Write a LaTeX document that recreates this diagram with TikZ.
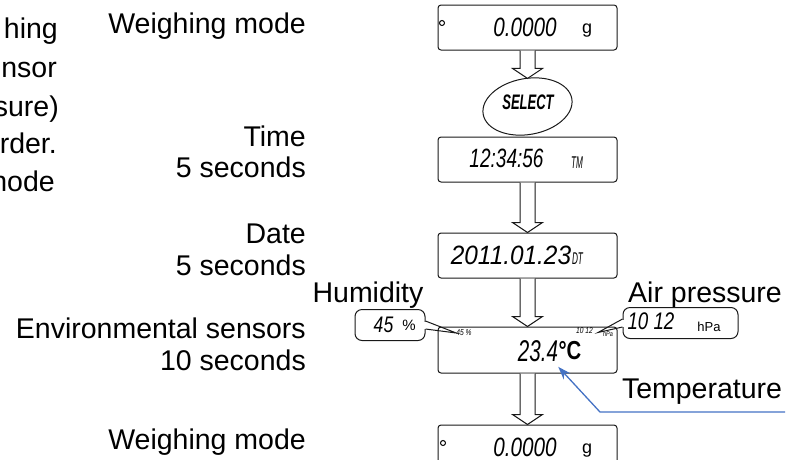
\documentclass[tikz,border=0pt]{standalone}
\usepackage{fontspec}
\setmainfont{Liberation Sans}
\newfontfamily\lcdfont{Liberation Sans}[FakeStretch=0.78]
\newfontfamily\keyfont{Liberation Sans}[FakeStretch=0.62]
\usetikzlibrary{calc, shapes.geometric, arrows.meta}
\definecolor{NoteBlue}{RGB}{68, 114, 196}
\definecolor{LcdEdge}{RGB}{25, 25, 25}

% hollow block arrow from one display to the next
\newcommand{\blockarrow}[2]{%
  \draw[flowarrow] ($(#1)+(-7.5,0)$) -- ($(#2)+(-7.5,-10)$) -- ($(#2)+(-15,-10)$)
    -- (#2) -- ($(#2)+(15,-10)$) -- ($(#2)+(7.5,-10)$) -- ($(#1)+(7.5,0)$);}

\tikzset{
  txt/.style={font=\fontsize{28.5}{31}\selectfont, inner sep=0pt},
  lcdbox/.style={draw=LcdEdge, line width=1pt, rounded corners=3pt, minimum width=179pt, minimum height=45pt, inner sep=0pt},
  lcd/.style={font=\lcdfont\itshape\fontsize{#1}{#1}\selectfont, inner sep=0pt},
  lcd/.default=26.5,
  lcdtag/.style={font=\lcdfont\itshape\fontsize{17}{17}\selectfont, inner sep=0pt, xscale=0.62},
  unitlbl/.style={font=\fontsize{#1}{#1}\selectfont, inner sep=0pt},
  unitlbl/.default=18,
  keyoval/.style={ellipse, draw=LcdEdge, line width=1pt, minimum width=90pt, minimum height=56pt, inner sep=0pt, rotate=10},
  keylbl/.style={font=\keyfont\bfseries\itshape\fontsize{21}{21}\selectfont, inner sep=0pt},
  bubble/.style={draw=LcdEdge, line width=1pt, rounded corners=7pt, minimum height=31pt, inner sep=0pt},
  bubbleline/.style={draw=LcdEdge, line width=1pt},
  flowarrow/.style={draw=LcdEdge, fill=white, line width=1pt, line join=miter},
  notearrow/.style={draw=NoteBlue, line width=1.3pt, -{Stealth[length=13pt,width=9pt]}},
}

\begin{document}
\begin{tikzpicture}[x=1pt,y=-1pt]
  \useasboundingbox (0,0) rectangle (800,459);
  \clip (0,0) rectangle (800,459);

  % paragraph cut off at the left edge
  \node[txt, anchor=base east] (frag1) at (58,38) {hing};
  \node[txt, anchor=base east] (frag2) at (57,77) {nsor};
  \node[txt, anchor=base east] (frag3) at (59,116) {sure)};
  \node[txt, anchor=base east] (frag4) at (57,153) {rder.};
  \node[txt, anchor=base east] (frag5) at (55,191) {node};

  % step labels
  \node[txt, anchor=base east] (wmtop) at (306,33) {Weighing mode};
  \node[txt, anchor=base east] (timelbl) at (306,146) {Time};
  \node[txt, anchor=base east] (timesec) at (306,177) {5 seconds};
  \node[txt, anchor=base east] (datelbl) at (306,243) {Date};
  \node[txt, anchor=base east] (datesec) at (306,275) {5 seconds};
  \node[txt, anchor=base east] (envlbl) at (306,338) {Environmental sensors};
  \node[txt, anchor=base east] (envsec) at (306,370) {10 seconds};
  \node[txt, anchor=base east] (wmbot) at (306,449) {Weighing mode};

  % displays
  \node[lcdbox] (wt) at (527.5,27.5) {};
  \node[keyoval] (select) at (527.5,106.5) {};
  \node[keylbl] (selectlbl) at (528,102.5) {SELECT};
  \node[lcdbox] (tm) at (527.5,159.5) {};
  \node[lcdbox] (dt) at (527.5,255.5) {};
  \node[lcdbox, minimum height=46pt] (env) at (527.5,350) {};
  \node[lcdbox] (wtend) at (527.5,447.5) {};

  \coordinate (seltop) at (select.north -| wt.south);
  \blockarrow{wt.south}{seltop}
  \blockarrow{tm.south}{dt.north}
  \blockarrow{dt.south}{env.north}
  \blockarrow{env.south}{wtend.north}

  % weighing display
  \draw[line width=1pt] (442,23) circle (2.5);
  \node[lcd] (wtval) at (525,27.5) {0.0000};
  \node[unitlbl] (wtunit) at (587,31) {g};

  % time and date
  \node[lcd, xscale=0.92] (tmval) at (506.5,158) {12:34:56};
  \node[lcdtag] (tmunit) at (577,163) {TM};
  \node[lcd, xscale=1.18] (dtval) at (511,255) {2011.01.23};
  \node[lcdtag] (dtunit) at (577.5,259) {DT};

  % environmental sensors
  \node[lcd=8.5] (humsmall) at (464,333) {45 \%};
  \node[lcd=8.5] (presmall) at (584.5,331) {10 12};
  \node[lcd=7] (hpasmall) at (608,334) {hPa};
  \node[lcd=30, xscale=0.88] (tempval) at (538,351) {23.4};
  \node[lcd=26, font=\lcdfont\bfseries\fontsize{26}{26}\selectfont] (tempunit) at (570,350.5) {°C};

  % humidity call-out
  \node[txt, anchor=base] (humlbl) at (368,302) {Humidity};
  \node[bubble, minimum width=70pt] (humbox) at (390,325) {};
  \node[lcd=22.5] (humval) at (383.5,325) {45};
  \node[unitlbl=15] (humpct) at (409,325) {\%};
  \fill[white] ($(humbox.east)+(-1.5,-3.5)$) rectangle ($(humbox.east)+(1.5,3.5)$);
  \draw[bubbleline] ($(humbox.east)+(0,-4)$) -- (humsmall.west) -- ($(humbox.east)+(0,4)$);

  % air pressure call-out
  \node[txt, anchor=base] (preslbl) at (705,302) {Air pressure};
  \node[bubble, minimum width=115pt] (presbox) at (680.5,323) {};
  \node[lcd=24] (presval) at (651,321.5) {10 12};
  \node[unitlbl=13] (preshpa) at (709,327) {hPa};
  \coordinate (prestip) at ($(presmall.east)!0.5!(hpasmall.west)$);
  \fill[white] ($(presbox.west)+(-1.5,-3.5)$) rectangle ($(presbox.west)+(1.5,3.5)$);
  \draw[bubbleline] ($(presbox.west)+(0,-4)$) -- (prestip) -- ($(presbox.west)+(0,4)$);

  % temperature note
  \node[txt, anchor=base] (templbl) at (702,398.5) {Temperature};
  \coordinate (tempend) at (785,412);
  \coordinate (tempknee) at (600,412);
  \draw[notearrow] (tempend) -- (tempknee) -- ($(tempval.south east)+(0,5)$);

  % weighing display again
  \draw[line width=1pt] (443,443) circle (2.5);
  \node[lcd] (wtendval) at (525,447.5) {0.0000};
  \node[unitlbl] (wtendunit) at (587,451) {g};
\end{tikzpicture}
\end{document}
